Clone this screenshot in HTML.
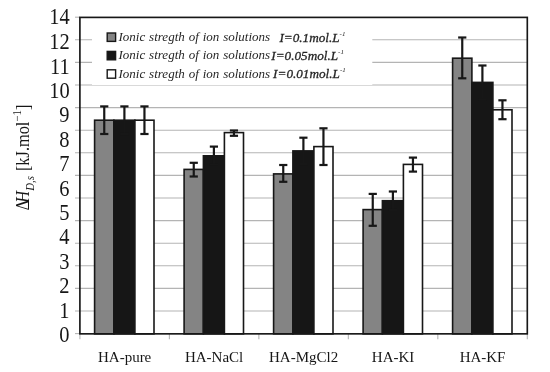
<!DOCTYPE html><html><head><meta charset="utf-8"><style>html,body{margin:0;padding:0;background:#fff;}body{width:550px;height:372px;overflow:hidden;}svg{display:block;}</style></head><body>
<svg width="550" height="372" viewBox="0 0 550 372">
<rect x="0" y="0" width="550" height="372" fill="#fff"/>
<line x1="75" y1="311.00" x2="527.3" y2="311.00" stroke="#b4b4b4" stroke-width="1.1"/>
<line x1="75" y1="288.40" x2="527.3" y2="288.40" stroke="#b4b4b4" stroke-width="1.1"/>
<line x1="75" y1="265.80" x2="527.3" y2="265.80" stroke="#b4b4b4" stroke-width="1.1"/>
<line x1="75" y1="243.20" x2="527.3" y2="243.20" stroke="#b4b4b4" stroke-width="1.1"/>
<line x1="75" y1="220.60" x2="527.3" y2="220.60" stroke="#b4b4b4" stroke-width="1.1"/>
<line x1="75" y1="198.00" x2="527.3" y2="198.00" stroke="#b4b4b4" stroke-width="1.1"/>
<line x1="75" y1="175.40" x2="527.3" y2="175.40" stroke="#b4b4b4" stroke-width="1.1"/>
<line x1="75" y1="152.80" x2="527.3" y2="152.80" stroke="#b4b4b4" stroke-width="1.1"/>
<line x1="75" y1="130.20" x2="527.3" y2="130.20" stroke="#b4b4b4" stroke-width="1.1"/>
<line x1="75" y1="107.60" x2="527.3" y2="107.60" stroke="#b4b4b4" stroke-width="1.1"/>
<line x1="75" y1="85.00" x2="527.3" y2="85.00" stroke="#b4b4b4" stroke-width="1.1"/>
<line x1="75" y1="62.40" x2="527.3" y2="62.40" stroke="#b4b4b4" stroke-width="1.1"/>
<line x1="75" y1="39.80" x2="527.3" y2="39.80" stroke="#b4b4b4" stroke-width="1.1"/>
<line x1="75" y1="333.60" x2="79.9" y2="333.60" stroke="#b4b4b4" stroke-width="1.1"/>
<line x1="75" y1="17.20" x2="79.9" y2="17.20" stroke="#b4b4b4" stroke-width="1.1"/>
<line x1="79.90" y1="333.85" x2="79.90" y2="339.35" stroke="#b4b4b4" stroke-width="1.1"/>
<line x1="169.38" y1="333.85" x2="169.38" y2="339.35" stroke="#b4b4b4" stroke-width="1.1"/>
<line x1="258.86" y1="333.85" x2="258.86" y2="339.35" stroke="#b4b4b4" stroke-width="1.1"/>
<line x1="348.34" y1="333.85" x2="348.34" y2="339.35" stroke="#b4b4b4" stroke-width="1.1"/>
<line x1="437.82" y1="333.85" x2="437.82" y2="339.35" stroke="#b4b4b4" stroke-width="1.1"/>
<line x1="527.30" y1="333.85" x2="527.30" y2="339.35" stroke="#b4b4b4" stroke-width="1.1"/>
<rect x="92" y="24" width="280.3" height="61" fill="#fff"/>
<rect x="94.60" y="120.20" width="19.30" height="213.65" fill="#848484" stroke="#171717" stroke-width="1.6"/>
<rect x="113.90" y="120.20" width="21.00" height="213.65" fill="#161616" stroke="#171717" stroke-width="1.6"/>
<rect x="134.90" y="120.20" width="19.10" height="213.65" fill="#ffffff" stroke="#171717" stroke-width="1.6"/>
<rect x="184.10" y="169.40" width="19.30" height="164.45" fill="#848484" stroke="#171717" stroke-width="1.6"/>
<rect x="203.40" y="155.80" width="21.00" height="178.05" fill="#161616" stroke="#171717" stroke-width="1.6"/>
<rect x="224.40" y="132.60" width="19.10" height="201.25" fill="#ffffff" stroke="#171717" stroke-width="1.6"/>
<rect x="273.60" y="173.90" width="19.30" height="159.95" fill="#848484" stroke="#171717" stroke-width="1.6"/>
<rect x="292.90" y="150.90" width="21.00" height="182.95" fill="#161616" stroke="#171717" stroke-width="1.6"/>
<rect x="313.90" y="146.60" width="19.10" height="187.25" fill="#ffffff" stroke="#171717" stroke-width="1.6"/>
<rect x="363.10" y="209.60" width="19.30" height="124.25" fill="#848484" stroke="#171717" stroke-width="1.6"/>
<rect x="382.40" y="200.70" width="21.00" height="133.15" fill="#161616" stroke="#171717" stroke-width="1.6"/>
<rect x="403.40" y="164.40" width="19.10" height="169.45" fill="#ffffff" stroke="#171717" stroke-width="1.6"/>
<rect x="452.60" y="58.20" width="19.30" height="275.65" fill="#848484" stroke="#171717" stroke-width="1.6"/>
<rect x="471.90" y="82.40" width="21.00" height="251.45" fill="#161616" stroke="#171717" stroke-width="1.6"/>
<rect x="492.90" y="109.80" width="19.10" height="224.05" fill="#ffffff" stroke="#171717" stroke-width="1.6"/>
<line x1="104.25" y1="106.40" x2="104.25" y2="134.00" stroke="#171717" stroke-width="2.2"/>
<line x1="100.15" y1="106.40" x2="108.35" y2="106.40" stroke="#171717" stroke-width="2.2"/>
<line x1="100.15" y1="134.00" x2="108.35" y2="134.00" stroke="#171717" stroke-width="2.2"/>
<line x1="124.40" y1="106.40" x2="124.40" y2="134.00" stroke="#171717" stroke-width="2.2"/>
<line x1="120.30" y1="106.40" x2="128.50" y2="106.40" stroke="#171717" stroke-width="2.2"/>
<line x1="120.30" y1="134.00" x2="128.50" y2="134.00" stroke="#171717" stroke-width="2.2"/>
<line x1="144.45" y1="106.40" x2="144.45" y2="134.00" stroke="#171717" stroke-width="2.2"/>
<line x1="140.35" y1="106.40" x2="148.55" y2="106.40" stroke="#171717" stroke-width="2.2"/>
<line x1="140.35" y1="134.00" x2="148.55" y2="134.00" stroke="#171717" stroke-width="2.2"/>
<line x1="193.75" y1="162.80" x2="193.75" y2="176.50" stroke="#171717" stroke-width="2.2"/>
<line x1="189.65" y1="162.80" x2="197.85" y2="162.80" stroke="#171717" stroke-width="2.2"/>
<line x1="189.65" y1="176.50" x2="197.85" y2="176.50" stroke="#171717" stroke-width="2.2"/>
<line x1="213.90" y1="146.60" x2="213.90" y2="164.50" stroke="#171717" stroke-width="2.2"/>
<line x1="209.80" y1="146.60" x2="218.00" y2="146.60" stroke="#171717" stroke-width="2.2"/>
<line x1="209.80" y1="164.50" x2="218.00" y2="164.50" stroke="#171717" stroke-width="2.2"/>
<line x1="233.95" y1="130.50" x2="233.95" y2="135.80" stroke="#171717" stroke-width="2.2"/>
<line x1="229.85" y1="130.50" x2="238.05" y2="130.50" stroke="#171717" stroke-width="2.2"/>
<line x1="229.85" y1="135.80" x2="238.05" y2="135.80" stroke="#171717" stroke-width="2.2"/>
<line x1="283.25" y1="165.00" x2="283.25" y2="181.80" stroke="#171717" stroke-width="2.2"/>
<line x1="279.15" y1="165.00" x2="287.35" y2="165.00" stroke="#171717" stroke-width="2.2"/>
<line x1="279.15" y1="181.80" x2="287.35" y2="181.80" stroke="#171717" stroke-width="2.2"/>
<line x1="303.40" y1="137.70" x2="303.40" y2="164.10" stroke="#171717" stroke-width="2.2"/>
<line x1="299.30" y1="137.70" x2="307.50" y2="137.70" stroke="#171717" stroke-width="2.2"/>
<line x1="299.30" y1="164.10" x2="307.50" y2="164.10" stroke="#171717" stroke-width="2.2"/>
<line x1="323.45" y1="128.30" x2="323.45" y2="165.00" stroke="#171717" stroke-width="2.2"/>
<line x1="319.35" y1="128.30" x2="327.55" y2="128.30" stroke="#171717" stroke-width="2.2"/>
<line x1="319.35" y1="165.00" x2="327.55" y2="165.00" stroke="#171717" stroke-width="2.2"/>
<line x1="372.75" y1="193.90" x2="372.75" y2="225.80" stroke="#171717" stroke-width="2.2"/>
<line x1="368.65" y1="193.90" x2="376.85" y2="193.90" stroke="#171717" stroke-width="2.2"/>
<line x1="368.65" y1="225.80" x2="376.85" y2="225.80" stroke="#171717" stroke-width="2.2"/>
<line x1="392.90" y1="191.50" x2="392.90" y2="209.90" stroke="#171717" stroke-width="2.2"/>
<line x1="388.80" y1="191.50" x2="397.00" y2="191.50" stroke="#171717" stroke-width="2.2"/>
<line x1="388.80" y1="209.90" x2="397.00" y2="209.90" stroke="#171717" stroke-width="2.2"/>
<line x1="412.95" y1="157.60" x2="412.95" y2="171.60" stroke="#171717" stroke-width="2.2"/>
<line x1="408.85" y1="157.60" x2="417.05" y2="157.60" stroke="#171717" stroke-width="2.2"/>
<line x1="408.85" y1="171.60" x2="417.05" y2="171.60" stroke="#171717" stroke-width="2.2"/>
<line x1="462.25" y1="37.50" x2="462.25" y2="78.30" stroke="#171717" stroke-width="2.2"/>
<line x1="458.15" y1="37.50" x2="466.35" y2="37.50" stroke="#171717" stroke-width="2.2"/>
<line x1="458.15" y1="78.30" x2="466.35" y2="78.30" stroke="#171717" stroke-width="2.2"/>
<line x1="482.40" y1="65.50" x2="482.40" y2="99.30" stroke="#171717" stroke-width="2.2"/>
<line x1="478.30" y1="65.50" x2="486.50" y2="65.50" stroke="#171717" stroke-width="2.2"/>
<line x1="478.30" y1="99.30" x2="486.50" y2="99.30" stroke="#171717" stroke-width="2.2"/>
<line x1="502.45" y1="100.30" x2="502.45" y2="119.20" stroke="#171717" stroke-width="2.2"/>
<line x1="498.35" y1="100.30" x2="506.55" y2="100.30" stroke="#171717" stroke-width="2.2"/>
<line x1="498.35" y1="119.20" x2="506.55" y2="119.20" stroke="#171717" stroke-width="2.2"/>
<rect x="79.9" y="17.4" width="447.40" height="316.45" fill="none" stroke="#171717" stroke-width="1.65"/>
<text transform="translate(69.6,24.24) scale(0.87,1)" x="0" y="0" font-family="Liberation Serif, serif" font-size="23.5" text-anchor="end" fill="#171717">14</text>
<text transform="translate(69.6,49.15) scale(0.87,1)" x="0" y="0" font-family="Liberation Serif, serif" font-size="23.5" text-anchor="end" fill="#171717">12</text>
<text transform="translate(69.6,73.56) scale(0.87,1)" x="0" y="0" font-family="Liberation Serif, serif" font-size="23.5" text-anchor="end" fill="#171717">11</text>
<text transform="translate(69.6,97.97) scale(0.87,1)" x="0" y="0" font-family="Liberation Serif, serif" font-size="23.5" text-anchor="end" fill="#171717">10</text>
<text transform="translate(69.6,122.38) scale(0.87,1)" x="0" y="0" font-family="Liberation Serif, serif" font-size="23.5" text-anchor="end" fill="#171717">9</text>
<text transform="translate(69.6,146.79) scale(0.87,1)" x="0" y="0" font-family="Liberation Serif, serif" font-size="23.5" text-anchor="end" fill="#171717">8</text>
<text transform="translate(69.6,171.20) scale(0.87,1)" x="0" y="0" font-family="Liberation Serif, serif" font-size="23.5" text-anchor="end" fill="#171717">7</text>
<text transform="translate(69.6,195.61) scale(0.87,1)" x="0" y="0" font-family="Liberation Serif, serif" font-size="23.5" text-anchor="end" fill="#171717">6</text>
<text transform="translate(69.6,220.02) scale(0.87,1)" x="0" y="0" font-family="Liberation Serif, serif" font-size="23.5" text-anchor="end" fill="#171717">5</text>
<text transform="translate(69.6,244.43) scale(0.87,1)" x="0" y="0" font-family="Liberation Serif, serif" font-size="23.5" text-anchor="end" fill="#171717">4</text>
<text transform="translate(69.6,268.84) scale(0.87,1)" x="0" y="0" font-family="Liberation Serif, serif" font-size="23.5" text-anchor="end" fill="#171717">3</text>
<text transform="translate(69.6,293.25) scale(0.87,1)" x="0" y="0" font-family="Liberation Serif, serif" font-size="23.5" text-anchor="end" fill="#171717">2</text>
<text transform="translate(69.6,317.66) scale(0.87,1)" x="0" y="0" font-family="Liberation Serif, serif" font-size="23.5" text-anchor="end" fill="#171717">1</text>
<text transform="translate(69.6,342.07) scale(0.87,1)" x="0" y="0" font-family="Liberation Serif, serif" font-size="23.5" text-anchor="end" fill="#171717">0</text>
<text x="124.64" y="361.6" font-family="Liberation Serif, serif" font-size="15" text-anchor="middle" fill="#171717">HA-pure</text>
<text x="214.12" y="361.6" font-family="Liberation Serif, serif" font-size="15" text-anchor="middle" fill="#171717">HA-NaCl</text>
<text x="303.60" y="361.6" font-family="Liberation Serif, serif" font-size="15" text-anchor="middle" fill="#171717">HA-MgCl2</text>
<text x="393.08" y="361.6" font-family="Liberation Serif, serif" font-size="15" text-anchor="middle" fill="#171717">HA-KI</text>
<text x="482.56" y="361.6" font-family="Liberation Serif, serif" font-size="15" text-anchor="middle" fill="#171717">HA-KF</text>
<text transform="translate(29,210.6) rotate(-90) scale(0.91,1)" font-family="Liberation Serif, serif" font-size="18" text-anchor="start" fill="#171717">&#916;<tspan font-style="italic" dx="-3">H</tspan><tspan font-style="italic" font-size="11.8" dy="5" dx="0.3">D,s</tspan><tspan dy="-5" dx="1">&#160;[kJ.mol</tspan><tspan font-size="12" dy="-8.5">&#8722;1</tspan><tspan dy="8.5">]</tspan></text>
<rect x="107.2" y="33.00" width="8.4" height="8.4" fill="#848484" stroke="#171717" stroke-width="1.4"/>
<rect x="107.2" y="51.40" width="8.4" height="8.4" fill="#161616" stroke="#171717" stroke-width="1.4"/>
<rect x="107.2" y="69.80" width="8.4" height="8.4" fill="#ffffff" stroke="#171717" stroke-width="1.4"/>
<text x="118.5" y="40.8" font-family="Liberation Serif, serif" font-style="italic" font-size="13" word-spacing="0.65" fill="#262626">Ionic stregth of ion solutions</text>
<text x="279.4" y="42.0" font-family="Liberation Serif, serif" font-style="italic" font-size="13.2" fill="#262626" stroke="#262626" stroke-width="0.3">I=0.1mol.L<tspan font-size="7" dy="-6" stroke-width="0">-1</tspan></text>
<text x="118.5" y="59.3" font-family="Liberation Serif, serif" font-style="italic" font-size="13" word-spacing="0.65" fill="#262626">Ionic stregth of ion solutions</text>
<text x="271.3" y="60.3" font-family="Liberation Serif, serif" font-style="italic" font-size="13.2" fill="#262626" stroke="#262626" stroke-width="0.3">I=0.05mol.L<tspan font-size="7" dy="-6" stroke-width="0">-1</tspan></text>
<text x="118.5" y="77.8" font-family="Liberation Serif, serif" font-style="italic" font-size="13" word-spacing="0.65" fill="#262626">Ionic stregth of ion solutions</text>
<text x="273.1" y="78.2" font-family="Liberation Serif, serif" font-style="italic" font-size="13.2" fill="#262626" stroke="#262626" stroke-width="0.3">I=0.01mol.L<tspan font-size="7" dy="-6" stroke-width="0">-1</tspan></text>
</svg></body></html>
